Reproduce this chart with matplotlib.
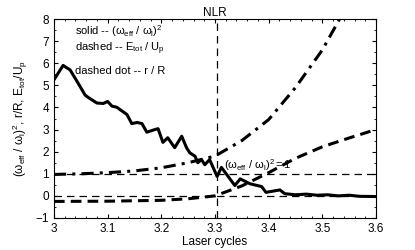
import numpy as np
import matplotlib
matplotlib.use("Agg")
import matplotlib.pyplot as plt
from matplotlib.ticker import MultipleLocator, FuncFormatter

plt.rcParams['font.family'] = ['Liberation Sans', 'DejaVu Sans']
plt.rcParams['mathtext.fontset'] = 'custom'
plt.rcParams['mathtext.rm'] = 'Liberation Sans'
plt.rcParams['mathtext.it'] = 'Liberation Sans'
plt.rcParams['mathtext.bf'] = 'Liberation Sans:bold'

# solid: (w_eff / w_l)^2
x_solid = [3.0, 3.017, 3.03, 3.045, 3.058, 3.064, 3.08, 3.092, 3.1, 3.108, 3.117,
           3.136, 3.145, 3.155, 3.164, 3.173, 3.188, 3.194, 3.203, 3.212, 3.225,
           3.238, 3.247, 3.253, 3.263, 3.268, 3.275, 3.281, 3.29, 3.304, 3.312,
           3.337, 3.347, 3.365, 3.387, 3.395, 3.421, 3.43, 3.45, 3.47, 3.49,
           3.51, 3.53, 3.55, 3.57, 3.6]
y_solid = [5.25, 5.9, 5.7, 5.1, 4.56, 4.45, 4.2, 4.18, 4.27, 4.06, 4.01,
           3.68, 3.27, 3.32, 3.27, 2.88, 3.0, 3.04, 2.42, 2.63, 2.18,
           2.7, 2.18, 1.95, 1.79, 1.5, 1.64, 1.41, 1.64, 0.88, 1.29,
           0.47, 0.77, 0.55, 0.42, 0.16, 0.27, 0.1, 0.05, 0.08, 0.03,
           0.05, 0.0, 0.03, -0.02, -0.03]

# dashed: E_tot / U_p
x_dash = [3.0, 3.1, 3.2, 3.25, 3.3, 3.35, 3.4, 3.45, 3.5, 3.55, 3.6]
y_dash = [-0.25, -0.24, -0.2, -0.13, 0.0, 0.45, 1.05, 1.7, 2.22, 2.62, 3.0]

# dash-dot: r / R
x_dd = [3.0, 3.05, 3.1, 3.15, 3.2, 3.25, 3.3, 3.35, 3.4, 3.45, 3.5, 3.53, 3.55]
y_dd = [0.97, 1.0, 1.05, 1.13, 1.27, 1.5, 1.8, 2.5, 3.45, 4.9, 6.6, 7.9, 8.8]

x_mark = 3.303

fig = plt.figure(figsize=(4.15, 2.5), dpi=100)
ax = fig.add_axes([0.130, 0.128, 0.776, 0.796])

ax.plot(x_solid, y_solid, 'k-', lw=2.2)
ax.plot(x_dash, y_dash, 'k--', lw=2.2, dashes=(3.5, 2))
ax.plot(x_dd, y_dd, 'k-.', lw=2.2, dashes=(4, 2, 1, 2))
ax.axhline(0, color='k', lw=0.9, ls='--', dashes=(6, 4))
ax.axhline(1, color='k', lw=0.9, ls='--', dashes=(6, 4))
ax.axvline(x_mark, color='k', lw=0.9, ls='--', dashes=(6, 4))

ax.text(3.04, 7.45, r'solid -- $(\omega_{eff}\ /\ \omega_l)^2$', fontsize=8, va='center')
ax.text(3.04, 6.65, r'dashed -- $\mathrm{E_{tot}\ /\ U_p}$', fontsize=8, va='center')
ax.text(3.04, 5.65, r'dashed dot -- r / R', fontsize=8, va='center')
ax.text(3.317, 1.22, r'$(\omega_{eff}\ /\ \omega_l)^2 = 1$', fontsize=8)

ax.set_xlim(3, 3.6)
ax.set_ylim(-1, 8)
ax.xaxis.set_major_locator(MultipleLocator(0.1))
ax.xaxis.set_minor_locator(MultipleLocator(0.02))
ax.yaxis.set_major_locator(MultipleLocator(1))
ax.yaxis.set_minor_locator(MultipleLocator(0.5))
ax.xaxis.set_major_formatter(FuncFormatter(lambda v, p: '%g' % round(v, 2)))
ax.yaxis.set_major_formatter(FuncFormatter(lambda v, p: ('%g' % v).replace('-', '\u2212')))
ax.tick_params(which='both', direction='in', top=True, right=True, labelsize=8.5)
ax.tick_params(which='major', length=3)
ax.tick_params(which='minor', length=1.5)

ax.set_title('NLR', fontsize=8.5, pad=2)
ax.set_xlabel('Laser cycles', fontsize=8.5, labelpad=1)
ax.set_ylabel(r'$(\omega_{eff}\ /\ \omega_l)^2$, r/R, $\mathrm{E_{tot}/U_p}$', fontsize=8.5, labelpad=4)

fig.savefig('out.png', dpi=100)
